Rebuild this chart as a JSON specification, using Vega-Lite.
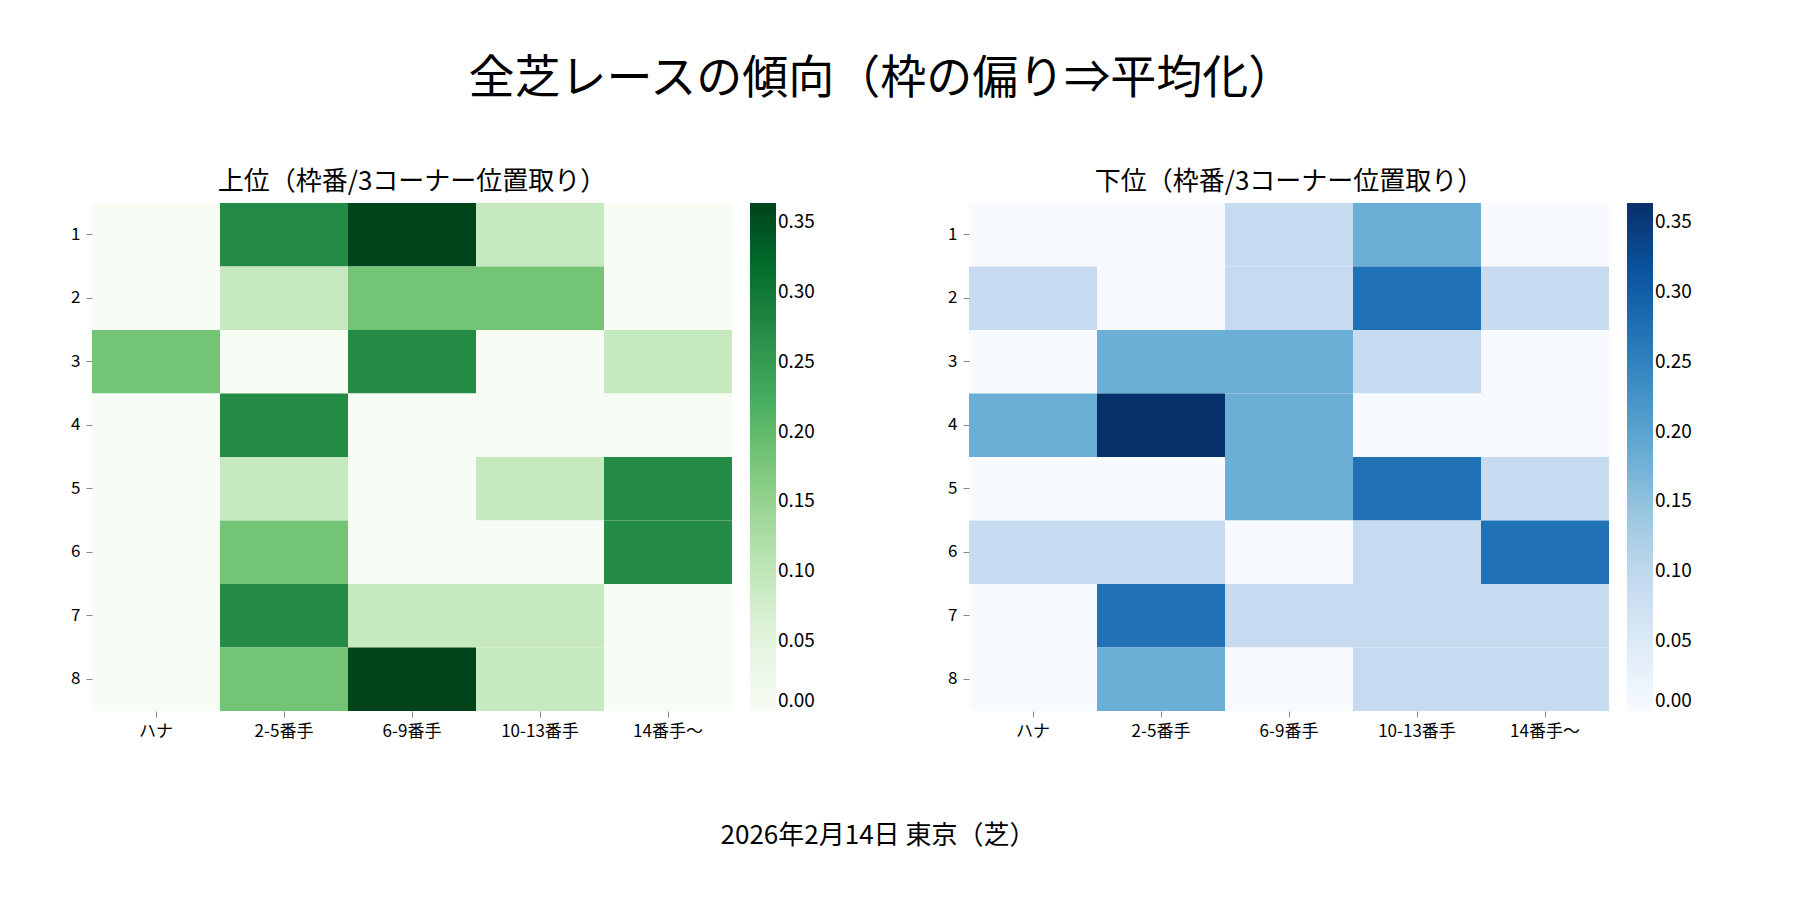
{
  "$schema": "https://vega.github.io/schema/vega-lite/v6.json",
  "background": "white",
  "padding": {"left": 70, "top": 56, "right": 30, "bottom": 20},
  "title": {"text": "全芝レースの傾向（枠の偏り⇒平均化）", "fontSize": 46, "fontWeight": "normal", "font": "Noto Sans CJK JP", "offset": 66, "anchor": "middle"},
  "config": {
    "font": "Noto Sans CJK JP",
    "view": {"stroke": null},
    "axis": {"domain": false, "grid": false, "labelFontSize": 17, "tickSize": 6, "labelPadding": 6, "title": null, "labelFont": "Noto Sans CJK JP"},
    "legend": {"gradientLength": 508, "gradientThickness": 26, "labelFontSize": 19, "title": null, "tickCount": 8, "labelFont": "Noto Sans CJK JP"},
    "title": {"fontSize": 26, "fontWeight": "normal", "font": "Noto Sans CJK JP"}
  },
  "datasets": {
    "upper": [
      {"row": 1, "col": "ハナ", "v": 0}, {"row": 1, "col": "2-5番手", "v": 0.2727}, {"row": 1, "col": "6-9番手", "v": 0.3636}, {"row": 1, "col": "10-13番手", "v": 0.0909}, {"row": 1, "col": "14番手〜", "v": 0},
      {"row": 2, "col": "ハナ", "v": 0}, {"row": 2, "col": "2-5番手", "v": 0.0909}, {"row": 2, "col": "6-9番手", "v": 0.1818}, {"row": 2, "col": "10-13番手", "v": 0.1818}, {"row": 2, "col": "14番手〜", "v": 0},
      {"row": 3, "col": "ハナ", "v": 0.1818}, {"row": 3, "col": "2-5番手", "v": 0}, {"row": 3, "col": "6-9番手", "v": 0.2727}, {"row": 3, "col": "10-13番手", "v": 0}, {"row": 3, "col": "14番手〜", "v": 0.0909},
      {"row": 4, "col": "ハナ", "v": 0}, {"row": 4, "col": "2-5番手", "v": 0.2727}, {"row": 4, "col": "6-9番手", "v": 0}, {"row": 4, "col": "10-13番手", "v": 0}, {"row": 4, "col": "14番手〜", "v": 0},
      {"row": 5, "col": "ハナ", "v": 0}, {"row": 5, "col": "2-5番手", "v": 0.0909}, {"row": 5, "col": "6-9番手", "v": 0}, {"row": 5, "col": "10-13番手", "v": 0.0909}, {"row": 5, "col": "14番手〜", "v": 0.2727},
      {"row": 6, "col": "ハナ", "v": 0}, {"row": 6, "col": "2-5番手", "v": 0.1818}, {"row": 6, "col": "6-9番手", "v": 0}, {"row": 6, "col": "10-13番手", "v": 0}, {"row": 6, "col": "14番手〜", "v": 0.2727},
      {"row": 7, "col": "ハナ", "v": 0}, {"row": 7, "col": "2-5番手", "v": 0.2727}, {"row": 7, "col": "6-9番手", "v": 0.0909}, {"row": 7, "col": "10-13番手", "v": 0.0909}, {"row": 7, "col": "14番手〜", "v": 0},
      {"row": 8, "col": "ハナ", "v": 0}, {"row": 8, "col": "2-5番手", "v": 0.1818}, {"row": 8, "col": "6-9番手", "v": 0.3636}, {"row": 8, "col": "10-13番手", "v": 0.0909}, {"row": 8, "col": "14番手〜", "v": 0}
    ],
    "lower": [
      {"row": 1, "col": "ハナ", "v": 0}, {"row": 1, "col": "2-5番手", "v": 0}, {"row": 1, "col": "6-9番手", "v": 0.0909}, {"row": 1, "col": "10-13番手", "v": 0.1818}, {"row": 1, "col": "14番手〜", "v": 0},
      {"row": 2, "col": "ハナ", "v": 0.0909}, {"row": 2, "col": "2-5番手", "v": 0}, {"row": 2, "col": "6-9番手", "v": 0.0909}, {"row": 2, "col": "10-13番手", "v": 0.2727}, {"row": 2, "col": "14番手〜", "v": 0.0909},
      {"row": 3, "col": "ハナ", "v": 0}, {"row": 3, "col": "2-5番手", "v": 0.1818}, {"row": 3, "col": "6-9番手", "v": 0.1818}, {"row": 3, "col": "10-13番手", "v": 0.0909}, {"row": 3, "col": "14番手〜", "v": 0},
      {"row": 4, "col": "ハナ", "v": 0.1818}, {"row": 4, "col": "2-5番手", "v": 0.3636}, {"row": 4, "col": "6-9番手", "v": 0.1818}, {"row": 4, "col": "10-13番手", "v": 0}, {"row": 4, "col": "14番手〜", "v": 0},
      {"row": 5, "col": "ハナ", "v": 0}, {"row": 5, "col": "2-5番手", "v": 0}, {"row": 5, "col": "6-9番手", "v": 0.1818}, {"row": 5, "col": "10-13番手", "v": 0.2727}, {"row": 5, "col": "14番手〜", "v": 0.0909},
      {"row": 6, "col": "ハナ", "v": 0.0909}, {"row": 6, "col": "2-5番手", "v": 0.0909}, {"row": 6, "col": "6-9番手", "v": 0}, {"row": 6, "col": "10-13番手", "v": 0.0909}, {"row": 6, "col": "14番手〜", "v": 0.2727},
      {"row": 7, "col": "ハナ", "v": 0}, {"row": 7, "col": "2-5番手", "v": 0.2727}, {"row": 7, "col": "6-9番手", "v": 0.0909}, {"row": 7, "col": "10-13番手", "v": 0.0909}, {"row": 7, "col": "14番手〜", "v": 0.0909},
      {"row": 8, "col": "ハナ", "v": 0}, {"row": 8, "col": "2-5番手", "v": 0.1818}, {"row": 8, "col": "6-9番手", "v": 0}, {"row": 8, "col": "10-13番手", "v": 0.0909}, {"row": 8, "col": "14番手〜", "v": 0.0909}
    ],
    "footer": [{"t": "2026年2月14日 東京（芝）"}]
  },
  "vconcat": [
    {
      "hconcat": [
        {
          "title": {"text": "上位（枠番/3コーナー位置取り）", "offset": 8},
          "data": {"name": "upper"},
          "width": 640, "height": 508,
          "mark": "rect",
          "encoding": {
            "x": {"field": "col", "type": "ordinal", "sort": ["ハナ", "2-5番手", "6-9番手", "10-13番手", "14番手〜"], "axis": {"labelAngle": 0}},
            "y": {"field": "row", "type": "ordinal", "axis": {"labelAngle": 0}},
            "color": {"field": "v", "type": "quantitative", "scale": {"domain": [0, 0.3636], "range": ["#f7fcf5", "#e5f5e0", "#c7e9c0", "#a1d99b", "#74c476", "#41ab5d", "#238b45", "#006d2c", "#00441b"]}, "legend": {"values": [0, 0.05, 0.1, 0.15, 0.2, 0.25, 0.3, 0.35], "format": ".2f"}}
          }
        },
        {
          "title": {"text": "下位（枠番/3コーナー位置取り）", "offset": 8},
          "data": {"name": "lower"},
          "width": 640, "height": 508,
          "mark": "rect",
          "encoding": {
            "x": {"field": "col", "type": "ordinal", "sort": ["ハナ", "2-5番手", "6-9番手", "10-13番手", "14番手〜"], "axis": {"labelAngle": 0}},
            "y": {"field": "row", "type": "ordinal", "axis": {"labelAngle": 0}},
            "color": {"field": "v", "type": "quantitative", "scale": {"domain": [0, 0.3636], "range": ["#f7fbff", "#deebf7", "#c6dbef", "#9ecae1", "#6baed6", "#4292c6", "#2171b5", "#08519c", "#08306b"]}, "legend": {"values": [0, 0.05, 0.1, 0.15, 0.2, 0.25, 0.3, 0.35], "format": ".2f"}}
          }
        }
      ],
      "spacing": 132,
      "resolve": {"scale": {"color": "independent"}}
    },
    {
      "data": {"name": "footer"},
      "width": 1572, "height": 40,
      "mark": {"type": "text", "fontSize": 26, "font": "Noto Sans CJK JP"},
      "encoding": {"text": {"field": "t"}}
    }
  ],
  "spacing": 77
}
